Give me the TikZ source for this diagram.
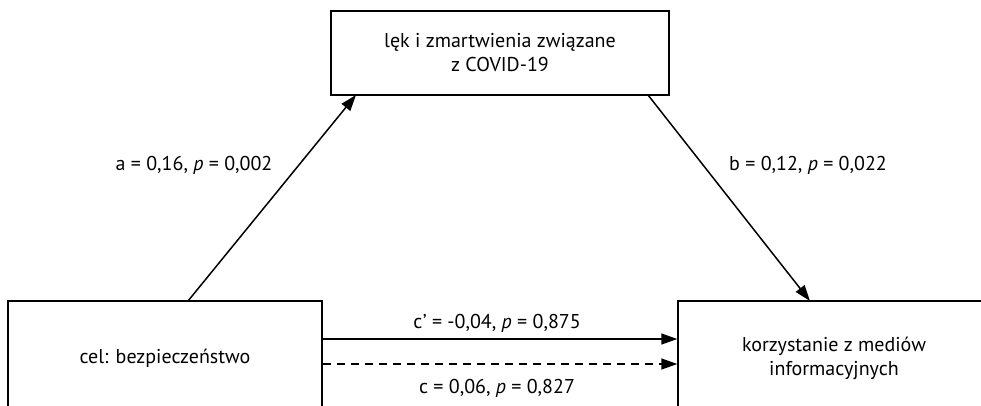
\documentclass[tikz,border=0pt]{standalone}
\usepackage{fontspec}
\setmainfont{PT Sans}
\usetikzlibrary{arrows.meta}
\begin{document}
\begin{tikzpicture}[x=1pt,y=-1pt,
  box/.style={draw,line width=1.5pt,align=center,inner sep=0pt,font=\fontsize{20}{24}\selectfont},
  lbl/.style={font=\fontsize{20}{24}\selectfont,inner sep=0pt},
  arr/.style={line width=1.5pt,-{Triangle[length=16pt,width=11pt]}}]
\useasboundingbox (0,0) rectangle (981,405);
\node[box,minimum width=338pt,minimum height=84pt] (top) at (500,53) {lęk i zmartwienia związane\\z COVID-19};
\node[box,minimum width=314pt,minimum height=114pt] (left) at (165,358) {cel: bezpieczeństwo};
\node[box,minimum width=312pt,minimum height=114pt] (right) at (834,358) {korzystanie z mediów\\informacyjnych};
\coordinate (a0) at (188,301);
\coordinate (a1) at (356,95);
\coordinate (b0) at (648,95);
\coordinate (b1) at (810,301);
\draw[arr] (a0) -- (a1);
\draw[arr] (b0) -- (b1);
\draw[arr] ([yshift=19pt]left.east) -- ([yshift=19pt]right.west);
\draw[arr,dash pattern=on 8pt off 6pt] ([yshift=-6pt]left.east) -- ([yshift=-6pt]right.west);
\node[lbl] (la) at (194,165) {a = 0,16, \textit{p} = 0,002};
\node[lbl] (lb) at (808,165) {b = 0,12, \textit{p} = 0,022};
\node[lbl] (lc1) at (497,323) {c\kern0.5pt’ = -0,04, \textit{p} = 0,875};
\node[lbl] (lc) at (497,388) {c = 0,06, \textit{p} = 0,827};
\end{tikzpicture}
\end{document}
